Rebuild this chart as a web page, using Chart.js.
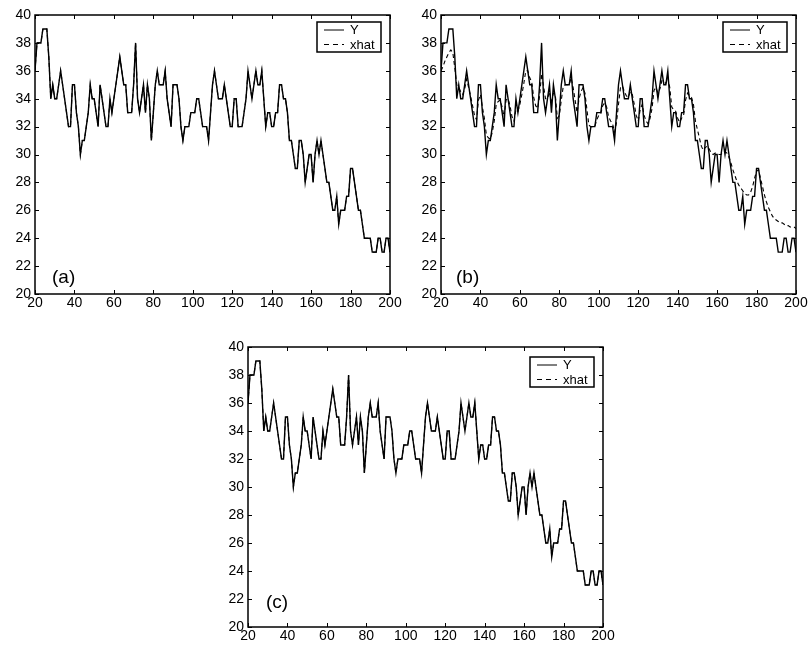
<!DOCTYPE html>
<html>
<head>
<meta charset="utf-8">
<script src="https://cdn.jsdelivr.net/npm/chart.js@4.4.1/dist/chart.umd.min.js"></script>
<style>
  html, body { margin: 0; padding: 0; background: #fff; }
  #wrap { position: relative; width: 810px; height: 650px; overflow: hidden; }
  .panel { position: absolute; }
</style>
</head>
<body>
<div id="wrap">
  <div class="panel" style="left:0px;top:0px"><canvas id="panelA" width="405" height="320"></canvas></div>
  <div class="panel" style="left:406px;top:0px"><canvas id="panelB" width="404" height="320"></canvas></div>
  <div class="panel" style="left:213px;top:332px"><canvas id="panelC" width="405" height="320"></canvas></div>
</div>
<script>
// sample index, 20..200
const xValues = Array.from({ length: 181 }, (_, i) => 20 + i);

// measured series Y (same in all three panels)
const yValues = [
  36, 38, 38, 38, 39, 39, 39, 37, 34, 35,
  34, 34, 35, 36, 35, 34, 33, 32, 32, 35,
  35, 33, 32, 30, 31, 31, 32, 33, 35, 34,
  34, 33, 32, 35, 34, 33, 32, 32, 34, 33,
  34, 35, 36, 37, 36, 35, 35, 33, 33, 33,
  35, 38, 34, 33, 34, 35, 33, 35, 34, 31,
  33, 35, 36, 35, 35, 35, 36, 34, 33, 32,
  35, 35, 35, 34, 32, 31, 32, 32, 32, 33,
  33, 33, 34, 34, 33, 32, 32, 32, 31, 33,
  35, 36, 35, 34, 34, 34, 35, 34, 33, 32,
  32, 34, 34, 32, 32, 32, 33, 34, 36, 35,
  34, 35, 36, 35, 35, 36, 34, 32, 33, 33,
  32, 32, 33, 33, 35, 35, 34, 34, 33, 31,
  31, 30, 29, 29, 31, 31, 30, 28, 29, 30,
  30, 28, 30, 31, 30, 31, 30, 29, 28, 28,
  27, 26, 26, 27, 25, 26, 26, 26, 27, 27,
  29, 29, 28, 27, 26, 26, 25, 24, 24, 24,
  24, 23, 23, 23, 24, 24, 23, 23, 24, 24,
  23
];

// estimate xhat of panel (b)
const xhatB = [
  36, 36.3, 36.7, 37, 37.3, 37.5, 37.3, 36.2, 35, 34.8,
  34.5, 34.3, 34.7, 35.4, 34.8, 34.2, 33.5, 32.8, 32.5, 33.9,
  34.3, 33.4, 32.6, 31.4, 31.2, 31.1, 31.6, 32.4, 33.6, 33.8,
  33.9, 33.4, 32.7, 33.9, 34, 33.5, 32.7, 32.4, 33.2, 33.1,
  33.6, 34.3, 35.1, 36, 36, 35.5, 35.2, 34.1, 33.5, 33.3,
  34.2, 35.8, 34.9, 34, 34, 34.5, 33.8, 34.4, 34.2, 32.6,
  32.8, 33.9, 34.9, 35, 35, 35, 35.5, 34.8, 33.9, 33,
  34, 34.5, 34.8, 34.4, 33.2, 32.1, 32, 32, 32, 32.5,
  32.8, 32.9, 33.5, 33.7, 33.4, 32.7, 32.4, 32.2, 31.6, 32.3,
  33.6, 34.8, 34.9, 34.5, 34.2, 34.1, 34.5, 34.3, 33.6, 32.8,
  32.4, 33.2, 33.6, 32.8, 32.4, 32.2, 32.6, 33.3, 34.6, 34.8,
  34.4, 34.7, 35.3, 35.2, 35.1, 35.5, 34.8, 33.4, 33.2, 33.1,
  32.6, 32.3, 32.6, 32.8, 33.9, 34.4, 34.2, 34.1, 33.6, 32.4,
  31.8, 31.2, 30.6, 30.3, 30.5, 30.6, 30.4, 30.1, 30, 30.1,
  30.1, 30, 30, 30.2, 30.2, 30.1, 29.8, 29.4, 28.9, 28.5,
  28.1, 27.8, 27.6, 27.4, 27.2, 27.1, 27.1, 27.3, 27.7, 28.3,
  28.8, 28.9, 28.3, 27.7, 27.1, 26.6, 26.2, 25.9, 25.6, 25.4,
  25.3, 25.2, 25.1, 25.1, 25, 24.9, 24.9, 24.8, 24.8, 24.8,
  24.7
];

// in (a) and (c) xhat sits right on top of Y
const xhatA = yValues.slice();
const xhatC = yValues.slice();

const xTicks = [20, 40, 60, 80, 100, 120, 140, 160, 180, 200];
const yTicks = [20, 22, 24, 26, 28, 30, 32, 34, 36, 38, 40];

const FONT = '"Liberation Sans", Arial, Helvetica, sans-serif';
const TICK_LEN = 4;

const matlabFrame = {
  id: 'matlabFrame',
  afterDraw(chart, args, opts) {
    const { ctx, chartArea: a, scales } = chart;
    ctx.save();
    ctx.strokeStyle = '#000';
    ctx.lineWidth = 1;
    ctx.beginPath();
    scales.x.ticks.forEach((t) => {
      const px = Math.round(scales.x.getPixelForValue(t.value)) + 0.5;
      ctx.moveTo(px, a.bottom);
      ctx.lineTo(px, a.bottom - TICK_LEN);
      ctx.moveTo(px, a.top);
      ctx.lineTo(px, a.top + TICK_LEN);
    });
    scales.y.ticks.forEach((t) => {
      const py = Math.round(scales.y.getPixelForValue(t.value)) + 0.5;
      ctx.moveTo(a.left, py);
      ctx.lineTo(a.left + TICK_LEN, py);
      ctx.moveTo(a.right, py);
      ctx.lineTo(a.right - TICK_LEN, py);
    });
    ctx.stroke();

    ctx.lineWidth = 1.5;
    ctx.strokeRect(a.left, a.top, a.right - a.left, a.bottom - a.top);

    // panel tag
    ctx.fillStyle = '#000';
    ctx.font = '19px ' + FONT;
    ctx.textBaseline = 'middle';
    ctx.textAlign = 'left';
    ctx.fillText(opts.tag, a.left + opts.tagDx, a.bottom - opts.tagDy);

    // legend box
    const bw = 64, bh = 30;
    const bx = a.right - 9 - bw;
    const by = a.top + opts.legendDy;
    ctx.fillStyle = '#fff';
    ctx.fillRect(bx, by, bw, bh);
    ctx.lineWidth = 1.5;
    ctx.strokeRect(bx, by, bw, bh);
    chart.data.datasets.forEach((ds, i) => {
      const ly = by + 8 + i * 14.5;
      ctx.lineWidth = 1;
      ctx.setLineDash(i === 0 ? [] : [5, 4]);
      ctx.beginPath();
      ctx.moveTo(bx + 7, ly);
      ctx.lineTo(bx + 27, ly);
      ctx.stroke();
      ctx.setLineDash([]);
      ctx.fillStyle = '#000';
      ctx.font = '13px ' + FONT;
      ctx.fillText(ds.label, bx + 33, ly + 0.5);
    });
    ctx.restore();
  }
};

function axis(min, max, ticks, fit) {
  return {
    type: 'linear',
    min: min,
    max: max,
    afterBuildTicks: (s) => { s.ticks = ticks.map((v) => ({ value: v })); },
    afterFit: fit,
    grid: { display: false, drawTicks: false },
    border: { display: false },
    ticks: {
      color: '#000',
      font: { family: FONT, size: 14 },
      autoSkip: false,
      maxRotation: 0,
      padding: 4
    }
  };
}

function drawPanel(id, xhat, tagOpts, xAxisH) {
  const yData = xValues.map((x, i) => ({ x: x, y: yValues[i] }));
  const hData = xValues.map((x, i) => ({ x: x, y: xhat[i] }));
  const xScale = axis(20, 200, xTicks, (s) => { s.height = xAxisH; });
  xScale.ticks.padding = 1;
  new Chart(document.getElementById(id), {
    type: 'line',
    data: {
      datasets: [
        { label: 'Y', data: yData, borderColor: '#000', borderWidth: 1.4, pointRadius: 0, tension: 0 },
        { label: 'xhat', data: hData, borderColor: '#000', borderWidth: 1.1, borderDash: [4, 3], pointRadius: 0, tension: 0 }
      ]
    },
    options: {
      responsive: false,
      animation: false,
      layout: { padding: { top: 15, right: id === 'panelB' ? 14 : 15, left: 0, bottom: 0 } },
      plugins: {
        legend: { display: false },
        tooltip: { enabled: false },
        matlabFrame: tagOpts
      },
      scales: {
        x: xScale,
        y: axis(20, 40, yTicks, (s) => { s.width = 35; })
      }
    },
    plugins: [matlabFrame]
  });
}

drawPanel('panelA', xhatA, { tag: '(a)', tagDx: 17, tagDy: 16, legendDy: 7 }, 26);
drawPanel('panelB', xhatB, { tag: '(b)', tagDx: 15, tagDy: 16, legendDy: 7 }, 26);
drawPanel('panelC', xhatC, { tag: '(c)', tagDx: 18, tagDy: 24, legendDy: 10 }, 25);
</script>
</body>
</html>
